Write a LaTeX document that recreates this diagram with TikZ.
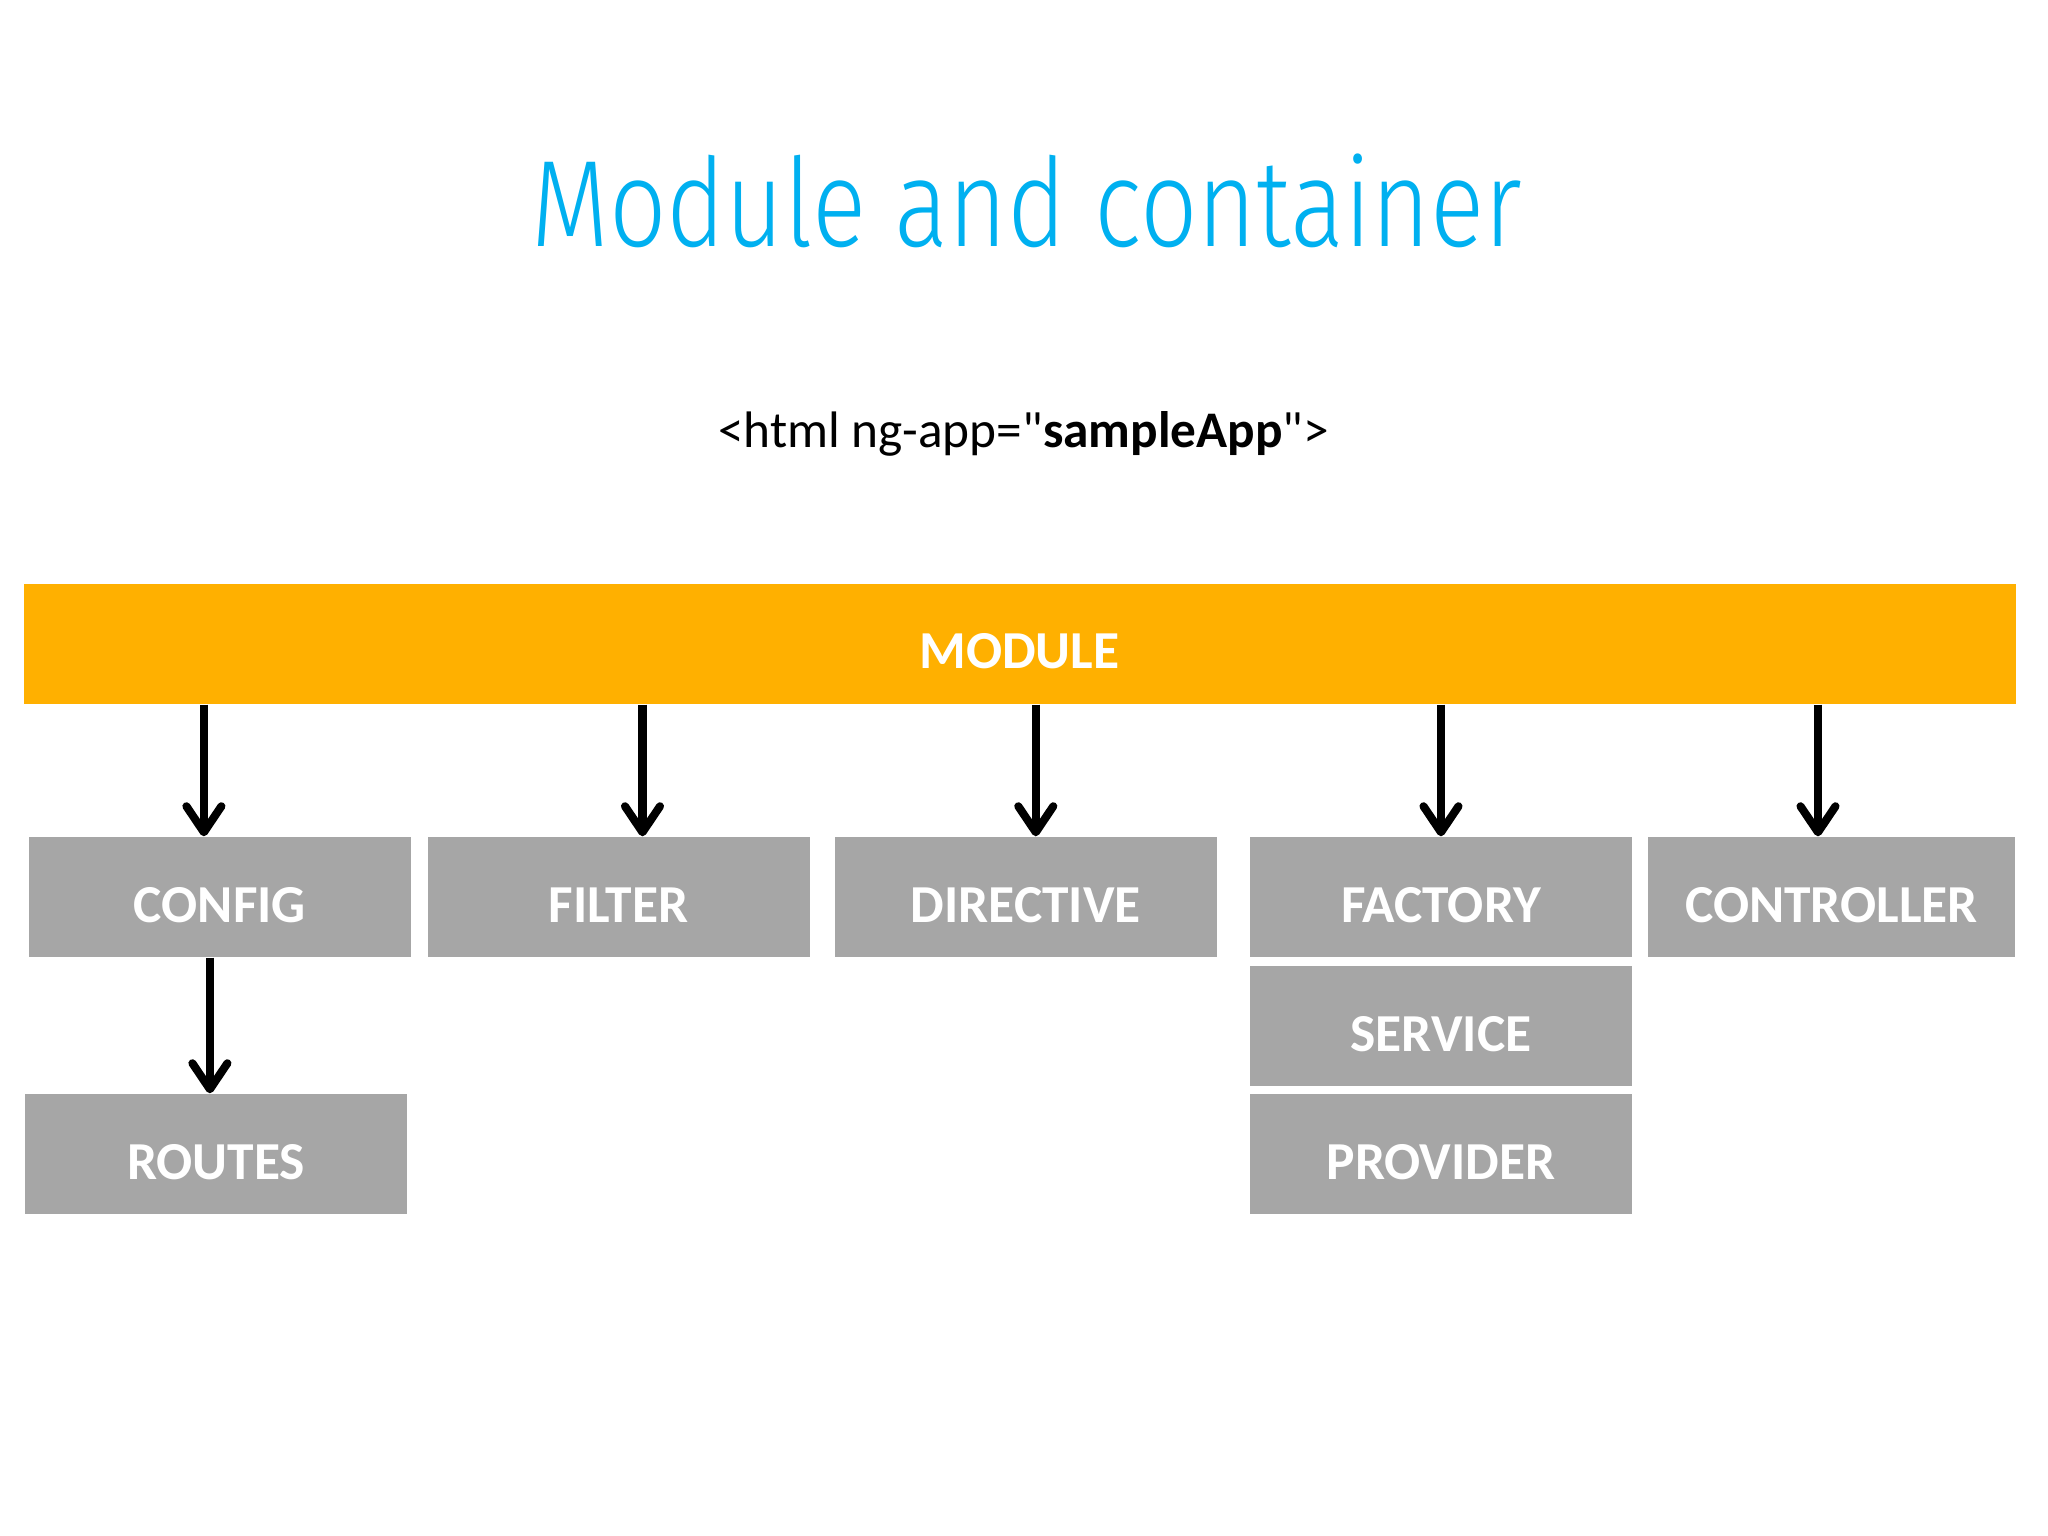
\documentclass[tikz,border=0pt]{standalone}
\usepackage{fontspec}
\usepackage{tikz}
\setmainfont{Carlito}
\newfontfamily\codefont{Carlito}
\newfontfamily\titlefont{Fira Sans Light}[FakeStretch=0.82]
\definecolor{blue500}{HTML}{00B0F0}
\definecolor{amber500}{HTML}{FFB000}
\definecolor{gray400}{HTML}{A6A6A6}
\usetikzlibrary{arrows.meta}
\tikzstyle{bloco}=[rectangle, fill=gray400, text=white, minimum width=3.82cm, minimum height=1.2cm, inner sep=0pt, text height=0.5cm, text depth=0cm, font=\fontsize{15.2}{16}\selectfont\bfseries]
\tikzstyle{seta}=[draw=black, line width=2.3pt, -{Straight Barb[length=2.6mm, width=3.5mm, line cap=round, line join=round]}]

\begin{document}
\begin{tikzpicture}
\useasboundingbox (0,0) rectangle (20.48,-15.36);
\node[anchor=base, text=blue500, font=\titlefont\fontsize{35}{40}\selectfont] (titulo) at (10.27,-2.47) {Module and container};
\node[anchor=base, font=\codefont\fontsize{14.6}{16}\selectfont] (html) at (10.235,-4.48) {<html ng-app="\textbf{sampleApp}">};
\node[bloco, fill=amber500, minimum width=19.92cm] (module) at (10.195,-6.44) {MODULE};
\node[bloco] (config) at (2.199,-8.97) {CONFIG};
\node[bloco] (filter) at (6.185,-8.97) {FILTER};
\node[bloco] (directive) at (10.258,-8.97) {DIRECTIVE};
\node[bloco] (factory) at (14.41,-8.97) {FACTORY};
\node[bloco, minimum width=3.67cm] (controller) at (18.315,-8.97) {CONTROLLER};
\node[bloco] (service) at (14.41,-10.26) {SERVICE};
\node[bloco] (provider) at (14.41,-11.54) {PROVIDER};
\node[bloco] (routes) at (2.16,-11.54) {ROUTES};
\path[seta] ([xshift=-1.6mm]config.north |- module.south) -- ([xshift=-1.6mm]config.north);
\path[seta] ([xshift=2.4mm]filter.north |- module.south) -- ([xshift=2.4mm]filter.north);
\path[seta] ([xshift=1mm]directive.north |- module.south) -- ([xshift=1mm]directive.north);
\path[seta] (factory.north |- module.south) -- (factory.north);
\path[seta] ([xshift=-1.35mm]controller.north |- module.south) -- ([xshift=-1.35mm]controller.north);
\path[seta] ([xshift=-1mm]config.south) -- ([xshift=-1mm]config.south |- routes.north);
\end{tikzpicture}
\end{document}
